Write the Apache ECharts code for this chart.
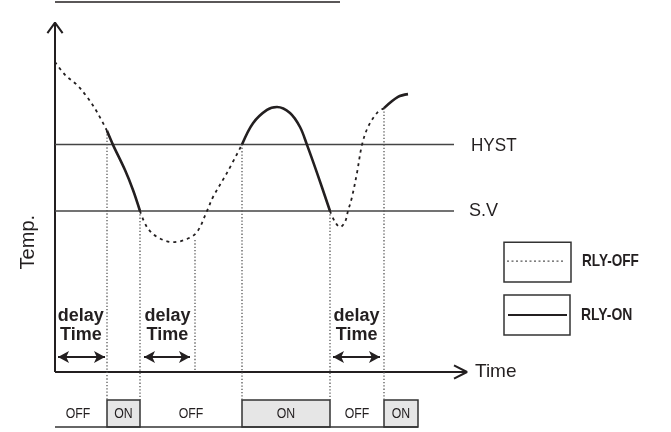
<!DOCTYPE html>
<html>
<head>
<meta charset="utf-8">
<script src="https://cdn.jsdelivr.net/npm/echarts@6/dist/echarts.min.js"></script>
<style>
  html, body { margin: 0; padding: 0; background: #fff; }
  #chart { width: 671px; height: 432px; }
</style>
</head>
<body>
<div id="chart"></div>
<script>
// temperature curve split at relay switch points, [time, temp]
const offCurve1 = [[0, 88.6], [2.5, 84.9], [5.5, 82.0], [8, 78.6], [10.5, 74.3], [13, 68.9]]
const onCurve1 = [[13, 68.9], [14.5, 64.9], [17.5, 57.7], [19.5, 52], [21.25, 46]]
const offCurve2 = [[21.25, 46], [23, 41.4], [25.5, 38.6], [29.5, 37.1], [33, 38], [35.5, 40], [38, 46], [39.5, 50], [43, 56.9], [46.75, 65]]
const onCurve2 = [[46.75, 65], [49.5, 71.1], [53, 74.9], [55.5, 75.7], [58.75, 74], [61.25, 70], [63, 64.9], [65.5, 56.9], [68.75, 46]]
const offCurve3 = [[68.75, 46], [70, 42.9], [71.25, 41.4], [72.5, 42.9], [73.25, 46], [74.25, 50], [75.5, 56.9], [76.75, 64.9], [78.25, 70], [80.5, 74], [82.25, 75.4]]
const onCurve3 = [[82.25, 75.4], [85.75, 78.6], [88.25, 79.4]]

const hystLevel = 65
const svLevel = 46
const levelEnd = 99.75

// dotted guides: [time, from temp, to temp]
const switchGuides = [[13, 68.9, -8], [21.25, 46, -8], [35, 37.7, 0], [46.75, 65, -8], [68.75, 46, -8], [82.25, 75.4, -8]]
// relay state strip: [state, start, end]
const relayStates = [['OFF', 0, 13], ['ON', 13, 21.25], ['OFF', 21.25, 46.75], ['ON', 46.75, 68.75], ['OFF', 68.75, 82.25], ['ON', 82.25, 90.75]]
const delaySpans = [[0.75, 12.5], [22.25, 33.75], [69.5, 81.25]]

const ink = '#231f20'
const sans = '"Liberation Sans", Arial, sans-serif'

const chart = echarts.init(document.getElementById('chart'))

const line = (data, style) => ({
    type: 'line',
    data: data,
    showSymbol: false,
    silent: true,
    animation: false,
    lineStyle: Object.assign({ color: ink, width: 2 }, style)
})
const curve = (data, dotted) => Object.assign(
    line(data, dotted ? { width: 1.8, type: [3, 4] } : { width: 2.6 }),
    { smooth: 0.35 }
)

const rects = (data, style) => ({
    type: 'custom',
    silent: true,
    animation: false,
    data: data,
    encode: { x: [0, 1], y: [2, 3] },
    renderItem: (params, api) => {
        const a = api.coord([api.value(0), api.value(2)])
        const b = api.coord([api.value(1), api.value(3)])
        return {
            type: 'rect',
            shape: { x: a[0], y: a[1], width: b[0] - a[0], height: b[1] - a[1] },
            style: Object.assign({ fill: '#fff', stroke: ink, lineWidth: 1.5 }, style)
        }
    }
})

// text placed in data space; the source uses a condensed face, so squeeze horizontally
const texts = [
    { at: [-6.75, 37.1], text: 'Temp.', size: 20, rot: Math.PI / 2 },
    { at: [104, 64.6], text: 'HYST', size: 19, sx: 0.9, align: 'left' },
    { at: [103.5, 46], text: 'S.V', size: 19, sx: 0.95, align: 'left' },
    { at: [105, 0], text: 'Time', size: 19, align: 'left' },
    { at: [6.45, 13.4], text: 'delay\nTime', size: 18, bold: true, lh: 19 },
    { at: [28.1, 13.4], text: 'delay\nTime', size: 18, bold: true, lh: 19 },
    { at: [75.4, 13.4], text: 'delay\nTime', size: 18, bold: true, lh: 19 },
    { at: [131.75, 31.7], text: 'RLY-OFF', size: 17, bold: true, sx: 0.8, align: 'left' },
    { at: [131.5, 16.2], text: 'RLY-ON', size: 17, bold: true, sx: 0.82, align: 'left' }
].concat(relayStates.map(s => ({
    at: [s[0] === 'OFF' && s[1] === 0 ? 5.75 : (s[1] + s[2]) / 2, -11.9],
    text: s[0], size: 15, sx: 0.82
})))

const series = [
    line([[0, 105.7], [71.25, 105.7]], { width: 1.5 }),
    // axes with open arrow heads
    line([[0, 0], [0, 99.8]], { width: 2 }),
    line([[-1.9, 96.8], [0, 99.8], [1.9, 96.8]], { width: 2 }),
    line([[0, 0], [103, 0]], { width: 2 }),
    line([[99.75, 1.9], [103, 0], [99.75, -1.9]], { width: 2 }),
    line([[0, hystLevel], [levelEnd, hystLevel]], { color: '#444', width: 1.5 }),
    line([[0, svLevel], [levelEnd, svLevel]], { color: '#444', width: 1.5 })
]
switchGuides.forEach(g => series.push(line([[g[0], g[1]], [g[0], g[2]]], { color: '#555', width: 1.3, type: [1.3, 2] })))
series.push(
    curve(offCurve1, true), curve(onCurve1, false),
    curve(offCurve2, true), curve(onCurve2, false),
    curve(offCurve3, true), curve(onCurve3, false)
)
// relay strip
series.push(rects(relayStates.filter(s => s[0] === 'ON').map(s => [s[1], s[2], -8, -15.7]), { fill: '#e6e6e6', stroke: '#333', lineWidth: 1.5 }))
series.push(line([[0, -15.7], [90.75, -15.7]], { width: 1.5, color: '#333' }))
// legend boxes
series.push(rects([[112.25, 129, 37.1, 25.7], [112.25, 128.75, 22, 10.6]], { stroke: '#333', lineWidth: 1.5 }))
series.push(line([[113, 31.7], [127, 31.7]], { color: '#555', width: 1.3, type: [2, 2.5] }))
series.push(line([[113.25, 16.3], [128, 16.3]], { width: 2 }))
// delay arrows
series.push({
    type: 'line',
    data: [],
    silent: true,
    animation: false,
    markLine: {
        silent: true,
        animation: false,
        symbol: ['arrow', 'arrow'],
        symbolSize: [9, 11],
        label: { show: false },
        lineStyle: { color: ink, width: 2.2, type: 'solid' },
        data: delaySpans.map(s => [{ coord: [s[0], 4.3] }, { coord: [s[1], 4.3] }])
    }
})
series.push({
    type: 'custom',
    silent: true,
    animation: false,
    data: texts.map(t => t.at),
    encode: { x: 0, y: 1 },
    renderItem: (params, api) => {
        const t = texts[params.dataIndex]
        const p = api.coord([api.value(0), api.value(1)])
        return {
            type: 'text',
            x: p[0],
            y: p[1],
            scaleX: t.sx || 1,
            rotation: t.rot || 0,
            style: {
                text: t.text,
                fill: ink,
                fontFamily: sans,
                fontSize: t.size,
                fontWeight: t.bold ? 'bold' : 'normal',
                lineHeight: t.lh || t.size,
                align: t.align || 'center',
                verticalAlign: 'middle'
            }
        }
    }
})

chart.setOption({
    backgroundColor: '#fff',
    animation: false,
    grid: { left: 0, right: 0, top: 1, bottom: 4 },
    xAxis: { type: 'value', min: -13.75, max: 154, show: false },
    yAxis: { type: 'value', min: -16, max: 106, show: false },
    series: series
})
</script>
</body>
</html>
